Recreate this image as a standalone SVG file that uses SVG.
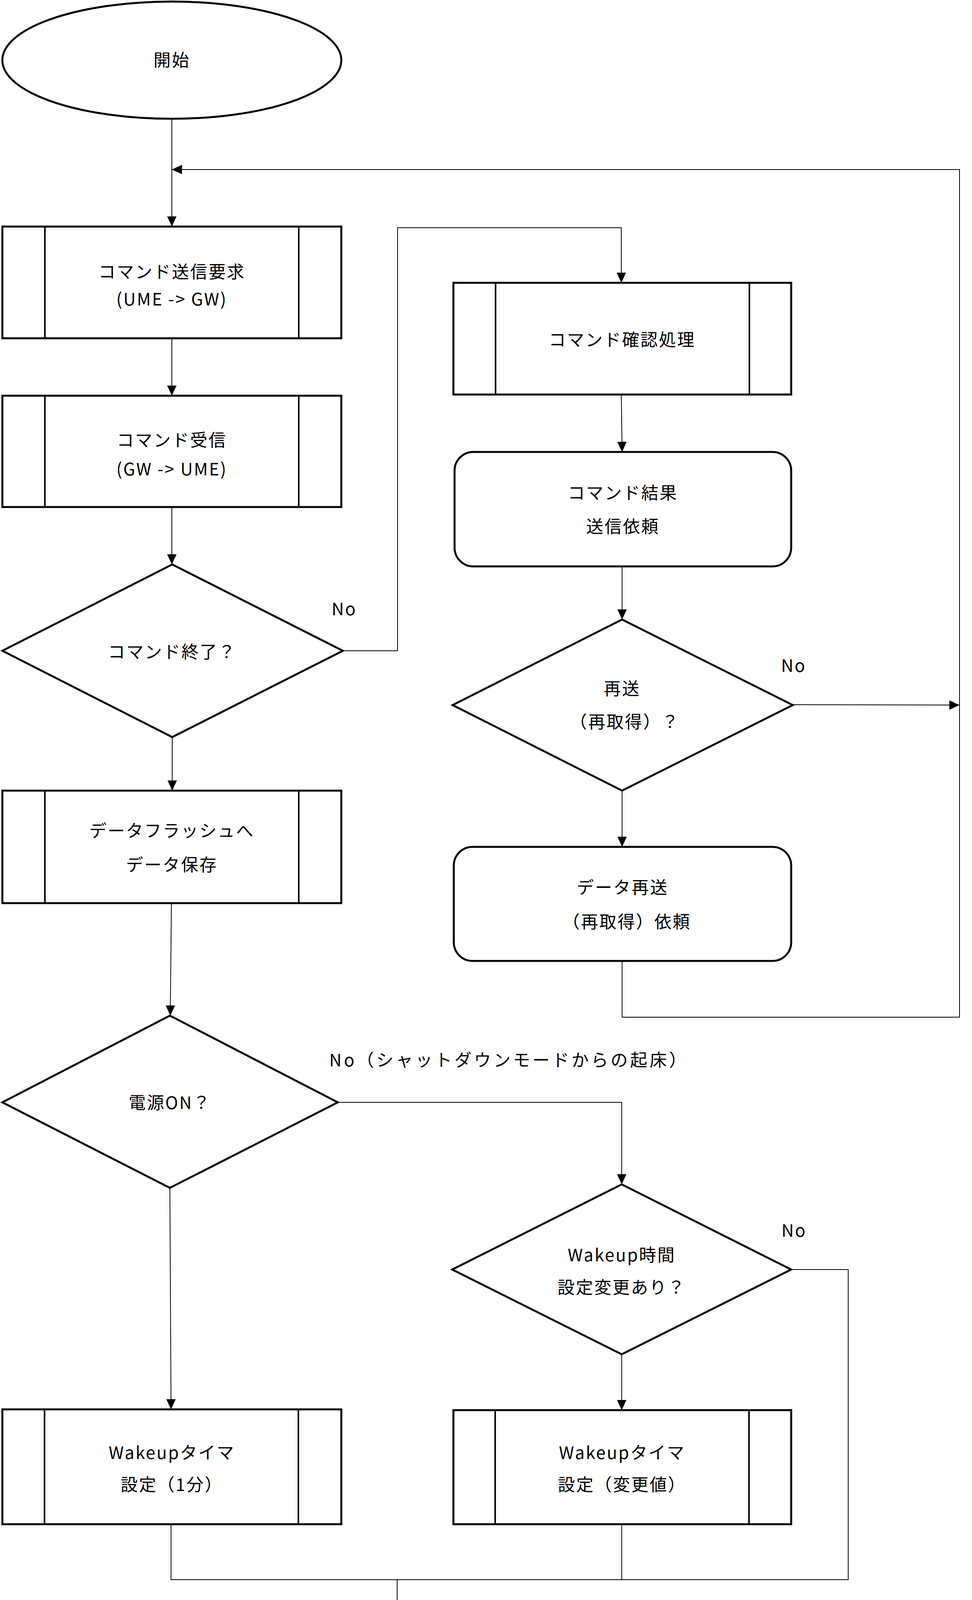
<svg xmlns="http://www.w3.org/2000/svg" width="2489" height="4481" viewBox="0 0 2489 4481">
<style>
.shape{fill:#fff;stroke:#000;stroke-width:5}
.inner{stroke:#000;stroke-width:4}
.conn{fill:none;stroke:#000;stroke-width:2}
text{font-family:"Noto Sans CJK JP","Noto Sans",sans-serif;font-size:44px;letter-spacing:3px;fill:#000;dominant-baseline:central}
.c{text-anchor:middle}
.wide{letter-spacing:6px}
</style>
<defs>
<marker id="arr" markerUnits="userSpaceOnUse" markerWidth="28" markerHeight="26" refX="26" refY="12" orient="auto">
<path d="M0,0 L26,12 L0,24 z" fill="#000"/>
</marker>
</defs>
<rect width="2489" height="4481" fill="#fff"/>
<g id="connectors">
<path class="conn" d="M440,304 V580" marker-end="url(#arr)"/>
<path class="conn" d="M440,866 V1013" marker-end="url(#arr)"/>
<path class="conn" d="M440,1298 V1445" marker-end="url(#arr)"/>
<path class="conn" d="M878,1666 H1018 V583 H1591 V724" marker-end="url(#arr)"/>
<path class="conn" d="M1591,1010 L1593,1157" marker-end="url(#arr)"/>
<path class="conn" d="M1593,1450 V1586" marker-end="url(#arr)"/>
<path class="conn" d="M2030,1804 L2457,1805" marker-end="url(#arr)"/>
<path class="conn" d="M1593,2460 V2604 H2457 V434 H440" marker-end="url(#arr)"/>
<path class="conn" d="M1593,2024 V2168" marker-end="url(#arr)"/>
<path class="conn" d="M441,1887 V2024" marker-end="url(#arr)"/>
<path class="conn" d="M439,2312 L436,2600" marker-end="url(#arr)"/>
<path class="conn" d="M865,2822 H1592 V3032" marker-end="url(#arr)"/>
<path class="conn" d="M2026,3250 H2172 V4044 H438 V3902"/>
<path class="conn" d="M1592,3902 V4044"/>
<path class="conn" d="M1017,4044 V4188" marker-end="url(#arr)"/>
<path class="conn" d="M435,3041 L438,3608" marker-end="url(#arr)"/>
<path class="conn" d="M1592,3467 V3610" marker-end="url(#arr)"/>
<text x="849" y="1556">No</text>
<text x="2000" y="1701">No</text>
<text class="wide" x="843" y="2711">No（シャットダウンモードからの起床）</text>
<text x="2001" y="3147">No</text>
</g>
<g id="start">
<ellipse class="shape" cx="440" cy="154" rx="434" ry="150"/>
<text class="c" x="440" y="151">開始</text>
</g>
<g id="cmd-send">
<rect class="shape" x="6" y="580" width="868" height="286"/>
<line class="inner" x1="115" y1="580" x2="115" y2="866"/>
<line class="inner" x1="765" y1="580" x2="765" y2="866"/>
<text class="c" x="440" y="693">コマンド送信要求</text>
<text class="c" x="440" y="763">(UME -&gt; GW)</text>
</g>
<g id="cmd-recv">
<rect class="shape" x="6" y="1013" width="868" height="285"/>
<line class="inner" x1="115" y1="1013" x2="115" y2="1298"/>
<line class="inner" x1="765" y1="1013" x2="765" y2="1298"/>
<text class="c" x="440" y="1124">コマンド受信</text>
<text class="c" x="440" y="1198">(GW -&gt; UME)</text>
</g>
<g id="cmd-end">
<polygon class="shape" points="441,1445 878,1666 441,1887 6,1666"/>
<text class="c" x="441" y="1666">コマンド終了？</text>
</g>
<g id="cmd-check">
<rect class="shape" x="1161" y="724" width="865" height="286"/>
<line class="inner" x1="1269" y1="724" x2="1269" y2="1010"/>
<line class="inner" x1="1919" y1="724" x2="1919" y2="1010"/>
<text class="c" x="1593" y="867">コマンド確認処理</text>
</g>
<g id="cmd-result">
<rect class="shape" x="1164" y="1157" width="862" height="293" rx="48" ry="48"/>
<text class="c" x="1595" y="1259">コマンド結果</text>
<text class="c" x="1595" y="1345">送信依頼</text>
</g>
<g id="resend">
<polygon class="shape" points="1593,1586 2030,1805 1593,2024 1159,1805"/>
<text class="c" x="1593" y="1760">再送</text>
<text class="c" x="1600" y="1845">（再取得）？</text>
</g>
<g id="data-resend">
<rect class="shape" x="1162" y="2168" width="864" height="292" rx="48" ry="48"/>
<text class="c" x="1594" y="2269">データ再送</text>
<text class="c" x="1605" y="2357">（再取得）依頼</text>
</g>
<g id="flash-save">
<rect class="shape" x="6" y="2024" width="868" height="288"/>
<line class="inner" x1="115" y1="2024" x2="115" y2="2312"/>
<line class="inner" x1="765" y1="2024" x2="765" y2="2312"/>
<text class="c" x="440" y="2124">データフラッシュへ</text>
<text class="c" x="440" y="2211">データ保存</text>
</g>
<g id="power-on">
<polygon class="shape" points="435,2600 865,2822 435,3041 6,2822"/>
<text class="c" x="435" y="2820">電源ON？</text>
</g>
<g id="wakeup-changed">
<polygon class="shape" points="1592,3032 2026,3250 1592,3467 1158,3250"/>
<text class="c" x="1592" y="3210">Wakeup時間</text>
<text class="c" x="1592" y="3293">設定変更あり？</text>
</g>
<g id="timer-1min">
<rect class="shape" x="6" y="3608" width="868" height="294"/>
<line class="inner" x1="114" y1="3608" x2="114" y2="3902"/>
<line class="inner" x1="764" y1="3608" x2="764" y2="3902"/>
<text class="c" x="440" y="3716">Wakeupタイマ</text>
<text class="c" x="440" y="3798">設定（1分）</text>
</g>
<g id="timer-changed">
<rect class="shape" x="1161" y="3610" width="865" height="292"/>
<line class="inner" x1="1268" y1="3610" x2="1268" y2="3902"/>
<line class="inner" x1="1918" y1="3610" x2="1918" y2="3902"/>
<text class="c" x="1593" y="3716">Wakeupタイマ</text>
<text class="c" x="1593" y="3798">設定（変更値）</text>
</g>
<g id="end">
<ellipse class="shape" cx="1017" cy="4332" rx="435" ry="144"/>
<text class="c" x="1017" y="4334">終了</text>
</g>
</svg>
